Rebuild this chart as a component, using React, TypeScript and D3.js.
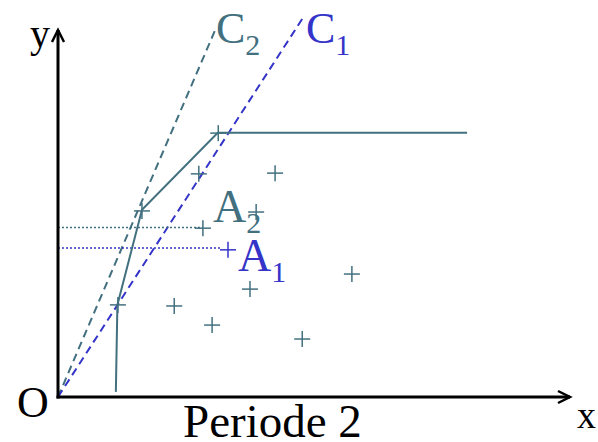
import React from "react";
import * as d3 from "d3";

const W = 598;
const H = 442;

// data units (0..10 on both axes)
const frontierX = [1.13, 1.16, 1.64, 3.12, 7.99];
const frontierY = [0.14, 2.51, 5.1, 7.2, 7.2];

const pointsX = [1.17, 1.64, 3.13, 2.75, 4.24, 3.87, 2.83, 2.27, 3.01, 3.75, 5.74, 4.77];
const pointsY = [2.51, 5.07, 7.19, 6.08, 6.1, 5.04, 4.6, 2.48, 1.96, 2.94, 3.35, 1.58];

const blueX = [3.32];
const blueY = [4.01];

const c2End = [3.07, 10.0];
const c1End = [4.82, 10.41];

const a2Level = [2.83, 4.62];
const a1Level = [3.2, 4.06];

const TEAL = "#42707f";
const BLUE = "#3434c8";
const FONT = "Liberation Serif, Tinos, Times New Roman, DejaVu Serif, serif";

export default function App() {
  const x = d3.scaleLinear().domain([0, 10]).range([58, 570]);
  const y = d3.scaleLinear().domain([0, 10]).range([397, 30]);

  const line = d3
    .line<[number, number]>()
    .x((d) => x(d[0]))
    .y((d) => y(d[1]));

  const frontier: [number, number][] = frontierX.map((v, i) => [v, frontierY[i]]);
  const pts = pointsX.map((v, i) => [v, pointsY[i]]);
  const bpts = blueX.map((v, i) => [v, blueY[i]]);

  const plus = (cx: number, cy: number, color: string, key: string) => (
    <g key={key} stroke={color} strokeWidth={1.5}>
      <line x1={cx - 8} x2={cx + 8} y1={cy} y2={cy} />
      <line x1={cx} x2={cx} y1={cy - 8} y2={cy + 8} />
    </g>
  );

  const ts = { fontFamily: FONT };

  return (
    <svg width={W} height={H} style={{ position: "absolute", left: 0, top: 0, background: "#fff" }}>
      <path d={line([[0, 0], [c2End[0], c2End[1]]])!} stroke={TEAL} strokeWidth={2} strokeDasharray="8 5" fill="none" />
      <path d={line([[0, 0], [c1End[0], c1End[1]]])!} stroke={BLUE} strokeWidth={2} strokeDasharray="8 5" fill="none" />
      <path d={line([[0, a2Level[1]], [a2Level[0], a2Level[1]]])!} stroke={TEAL} strokeWidth={1.5} strokeDasharray="2 2" fill="none" />
      <path d={line([[0, a1Level[1]], [a1Level[0], a1Level[1]]])!} stroke={BLUE} strokeWidth={1.5} strokeDasharray="2 2" fill="none" />
      <path d={line(frontier)!} stroke={TEAL} strokeWidth={2} fill="none" />
      {pts.map((p, i) => plus(x(p[0]), y(p[1]), TEAL, "p" + i))}
      {bpts.map((p, i) => plus(x(p[0]), y(p[1]), BLUE, "b" + i))}
      <g stroke="#000" strokeWidth={3} fill="none">
        <line x1={x(0)} y1={y(0) + 1.5} x2={x(0)} y2={y(10)} />
        <line x1={x(0) - 1.5} y1={y(0)} x2={x(10)} y2={y(0)} />
        <path d={`M${x(0) - 6},${y(10) + 12} L${x(0)},${y(10)} L${x(0) + 6},${y(10) + 12}`} strokeWidth={2.5} />
        <path d={`M${x(10) - 12},${y(0) - 6} L${x(10)},${y(0)} L${x(10) - 12},${y(0) + 6}`} strokeWidth={2.5} />
      </g>
      <text x={30} y={47} fontSize={40} fill="#000" style={ts}>y</text>
      <text x={17} y={417} fontSize={44} fill="#000" style={ts}>O</text>
      <text x={577} y={428} fontSize={38} fill="#000" style={ts}>x</text>
      <text x={183} y={437} fontSize={47} fill="#000" style={ts}>Periode 2</text>
      <text x={216} y={43} fontSize={44} fill={TEAL} style={ts}>
        C<tspan fontSize={30} dy={12}>2</tspan>
      </text>
      <text x={306} y={43} fontSize={44} fill={BLUE} style={ts}>
        C<tspan fontSize={30} dy={12}>1</tspan>
      </text>
      <text x={213} y={222} fontSize={46} fill={TEAL} style={ts}>
        A<tspan fontSize={30} dy={11}>2</tspan>
      </text>
      <text x={238} y={271} fontSize={46} fill={BLUE} style={ts}>
        A<tspan fontSize={30} dy={11}>1</tspan>
      </text>
    </svg>
  );
}
